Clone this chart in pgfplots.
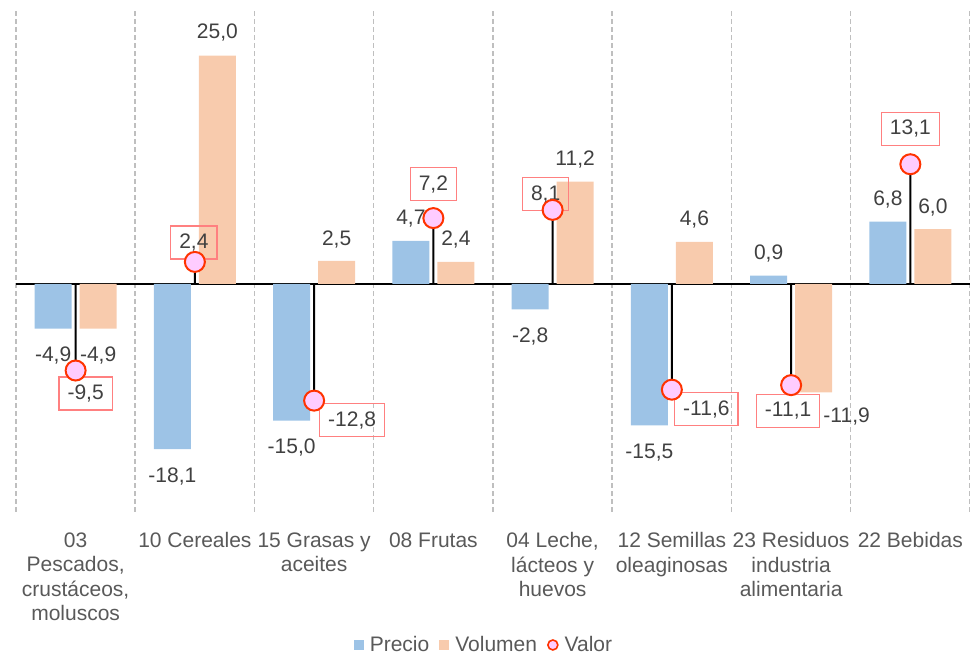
\documentclass[border=0pt]{standalone}
\usepackage{fontspec}
\setmainfont{Liberation Sans}
\usepackage{pgfplots}
\usepackage{pgfplotstable}
\pgfplotsset{compat=1.18}
\definecolor{cPrecio}{RGB}{157,195,230}
\definecolor{cVol}{RGB}{248,203,173}
\definecolor{cFill}{RGB}{255,204,255}
\definecolor{cRed}{RGB}{255,51,0}
\definecolor{cBox}{RGB}{255,128,128}
\definecolor{cLab}{RGB}{64,64,64}
\definecolor{cAx}{RGB}{89,89,89}
\definecolor{cGrid}{RGB}{191,191,191}
\pgfkeys{/pgf/number format/.cd,fixed,fixed zerofill,precision=1,use comma,assume math mode=true}

% dx, dy: label offsets (pt) from the bar end / marker
\pgfplotstableread{
x y dx dy
0 -4.9 -11.25 -13.5
1 -18.1 -11.25 -13.5
2 -15.0 -11.25 -13.5
3 4.7 -11.25 11
4 -2.8 -11.25 -13.5
5 -15.5 -11.25 -13.5
6 0.9 -11.25 11
7 6.8 -11.25 11
}\precio

\pgfplotstableread{
x y dx dy
0 -4.9 11.25 -13.5
1 25.0 11.25 11.5
2 2.5 11.25 10.5
3 2.4 11.25 11
4 11.2 11.25 11
5 4.6 11.25 11
6 -11.9 27.75 -12.25
7 6.0 11.25 11
}\volumen

\pgfplotstableread{
x y dx dy
0 -9.5 5 -11.5
1 2.4 -0.5 9.75
2 -12.8 19 -9.75
3 7.2 0 17
4 8.1 -3.5 7.8
5 -11.6 17.25 -9.85
6 -11.1 -1.5 -12.75
7 13.1 0 17.75
}\valor

\newcommand{\lblfont}{\fontsize{10.5}{12.25}\selectfont}

\begin{document}
\begin{tikzpicture}
\useasboundingbox (0,0) rectangle (485pt,328.5pt);
\begin{axis}[
  at={(8pt,72.5pt)}, anchor=south west,
  scale only axis, width=477pt, height=251pt,
  xmin=-0.5, xmax=7.5, ymin=-25, ymax=30,
  clip=false,
  axis line style={draw=none},
  major tick length=0pt, minor tick length=0pt,
  xtick={0,...,7},
  xticklabels={{03\\Pescados,\\crustáceos,\\moluscos},{10 Cereales},{15 Grasas y\\aceites},{08 Frutas},{04 Leche,\\lácteos y\\huevos},{12 Semillas\\oleaginosas},{23 Residuos\\industria\\alimentaria},{22 Bebidas}},
  minor xtick={-0.5,0.5,...,7.5},
  xminorgrids=true,
  minor grid style={cGrid, line width=0.75pt, dash pattern=on 2.5pt off 1.5pt},
  ytick=\empty,
  extra y ticks={0}, extra y tick labels={},
  extra y tick style={grid=major, major grid style={solid, black, line width=1pt}},
  xticklabel style={align=center, anchor=north, inner sep=0pt, yshift=-10pt, font=\lblfont, text=cAx},
  legend columns=-1,
  legend style={at={(axis description cs:0.4895,-0.2649)}, anchor=center, draw=none, fill=none,
    font=\lblfont, text=cAx, inner sep=0pt,
    nodes={inner sep=0pt},
    /tikz/every odd column/.append style={column sep=3pt},
    /tikz/every even column/.append style={column sep=5pt}},
  nodes near coords align={center},
  every node near coord/.append style={font=\lblfont, text=cLab, anchor=center, xshift=\dx pt, yshift=\dy pt},
  visualization depends on={\thisrow{dx}\as\dx},
  visualization depends on={\thisrow{dy}\as\dy},
]
\addplot[ybar, bar width=0.31, bar shift=-0.1886, fill=cPrecio, draw=none,
  nodes near coords,
  legend image code/.code={\fill[cPrecio] (0pt,-2.5pt) rectangle (5pt,2.5pt);}]
  table[x=x,y=y]{\precio};
\addlegendentry{Precio}
\addplot[ybar, bar width=0.31, bar shift=0.1886, fill=cVol, draw=none,
  nodes near coords,
  legend image code/.code={\fill[cVol] (0pt,-2.5pt) rectangle (5pt,2.5pt);}]
  table[x=x,y=y]{\volumen};
\addlegendentry{Volumen}
\addplot[draw=none, forget plot, nodes near coords,
  every node near coord/.append style={draw=cBox, line width=0.6pt, inner xsep=4.25pt, inner ysep=0pt, minimum height=16.5pt}]
  table[x=x,y=y]{\valor};
\addplot[ybar, bar width=1pt, bar shift=0pt, fill=black, draw=none, forget plot]
  table[x=x,y=y]{\valor};
\addplot[only marks, mark=*, mark size=5pt, mark options={fill=cFill, draw=cRed, line width=1pt},
  legend image code/.code={\draw[cRed, fill=cFill, line width=0.8pt] (2.7pt,0pt) circle (2.5pt);}]
  table[x=x,y=y]{\valor};
\addlegendentry{Valor}
\end{axis}
\end{tikzpicture}
\end{document}
